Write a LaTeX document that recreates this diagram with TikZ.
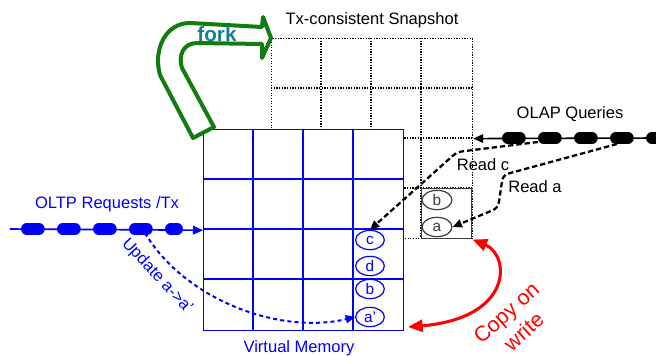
\documentclass[tikz,border=0pt]{standalone}
\usepackage{fontspec}
\setmainfont{Liberation Sans}
\usetikzlibrary{arrows.meta,shapes.geometric}
\definecolor{vmblue}{RGB}{0,0,255}
\definecolor{forkgreen}{RGB}{16,125,16}
\definecolor{forkteal}{RGB}{20,130,140}
\definecolor{cowred}{RGB}{255,0,0}
\definecolor{boxgray}{RGB}{60,60,60}
\begin{document}
\begin{tikzpicture}[x=0.75pt,y=-0.75pt,
  lbl/.style={font=\fontsize{12.4}{14.5}\selectfont, inner sep=0},
  vmline/.style={draw=vmblue, line width=1.1pt},
  snapline/.style={draw=black, line width=0.9pt, dash pattern=on 0.9pt off 1.1pt},
  cell/.style={ellipse, draw=vmblue, fill=white, line width=0.9pt, minimum width=21.5pt, minimum height=14.5pt, inner sep=0, text=vmblue, font=\fontsize{11.5}{12}\selectfont},
  oldcell/.style={cell, draw=boxgray, text=boxgray, minimum width=22.5pt},
  readarrow/.style={black, line width=1.7pt, dash pattern=on 4pt off 2.2pt, rounded corners=4pt, -{Triangle[length=7pt,width=6pt]}},
  updarrow/.style={vmblue, line width=1.5pt, dash pattern=on 3pt off 2.4pt, -{Triangle[length=7pt,width=6pt]}},
  cowarrow/.style={cowred, line width=2.3pt, {Triangle[length=11pt,width=9pt]}-{Triangle[length=11pt,width=9pt]}},
  flowline/.style={line width=1.2pt, -{Triangle[length=7.5pt,width=6.5pt]}},
  bigdash/.style={line width=8.6pt, line cap=round, dash pattern=on 9.2pt off 17.8pt}
]
\useasboundingbox (0,0) rectangle (656,356);

% snapshot (dotted grid)
\node[snapline, minimum width=150.75pt, minimum height=150pt, inner sep=0, anchor=north west] (snap) at (271,38) {};
\foreach \x in {321,371,421} \draw[snapline] (\x,38) -- (\x,238);
\foreach \y in {88,138,188} \draw[snapline] (271,\y) -- (472,\y);

% copied page box
\node[draw=boxgray, line width=1.1pt, minimum width=37.5pt, minimum height=37.5pt, inner sep=0, anchor=north west] (copybox) at (421,188) {};
\node[oldcell] (bold) at (437,200) {b};
\node[oldcell] (aold) at (437,227) {a};

% virtual memory grid
\node[vmline, fill=white, minimum width=150pt, minimum height=150.75pt, inner sep=0, anchor=north west] (vm) at (203,129) {};
\foreach \x in {253,303,353} \draw[vmline] (\x,129) -- (\x,330);
\foreach \y in {179,229,279} \draw[vmline] (203,\y) -- (403,\y);
\node[cell] (c) at (370,240) {c};
\node[cell] (d) at (370,266) {d};
\node[cell] (b) at (370,289) {b};
\node[cell] (ap) at (370,317) {a'};

% fork arrow
\draw[forkgreen, line width=3pt, fill=white, line join=round]
  (193,138) -- (160,75) .. controls (153,50) and (165,23) .. (190,23) -- (262,27)
  -- (263,17) -- (271,38) -- (262,58) -- (262,44) -- (197,43)
  .. controls (183,43) and (178,56) .. (182,68) -- (214,127) -- cycle;
\node[text=forkteal, font=\bfseries\fontsize{15.5}{18}\selectfont, inner sep=0] (forklbl) at (217,34) {fork};

% OLTP requests
\coordinate (oltp0) at (10,229);
\draw[vmblue, flowline] (oltp0) -- (vm.west);
\draw[vmblue, bigdash] (26.75,229) -- (177.25,229);
\node[lbl, text=vmblue] (oltplbl) at (107,204) {OLTP Requests /Tx};

% OLAP queries
\coordinate (olap0) at (660,138);
\draw[black, flowline] (olap0) -- (snap.east);
\draw[black, bigdash] (507.75,138) -- (670,138);
\node[lbl] (olaplbl) at (570,114) {OLAP Queries};

% read arrows
\coordinate (rc0) at (538,142);
\coordinate (ra0) at (617,144);
\draw[readarrow] (rc0) -- (457,152) -- (c.north);
\draw[readarrow] (ra0) -- (503,175) -- (498,208) -- (aold.east);
\node[lbl] (readc) at (483,165) {Read c};
\node[lbl] (reada) at (535,187) {Read a};

% update
\coordinate (upd0) at (145,233);
\draw[updarrow] (upd0) .. controls (185,300) and (280,335) .. (ap.west);
\node[lbl, text=vmblue, rotate=-47] (updlbl) at (157,276) {Update a->a'};

% copy on write
\coordinate (cowend) at (408,327);
\draw[cowarrow] (copybox.south east) .. controls (510,255) and (514,318) .. (cowend);
\node[text=cowred, font=\fontsize{16}{19.5}\selectfont, align=center, rotate=42, inner sep=0] (cowlbl) at (515,322) {Copy on\\write};

% titles
\node[lbl] (snaplbl) at (372,20) {Tx-consistent Snapshot};
\node[lbl, text=vmblue] (vmlbl) at (299,348) {Virtual Memory};
\end{tikzpicture}
\end{document}
